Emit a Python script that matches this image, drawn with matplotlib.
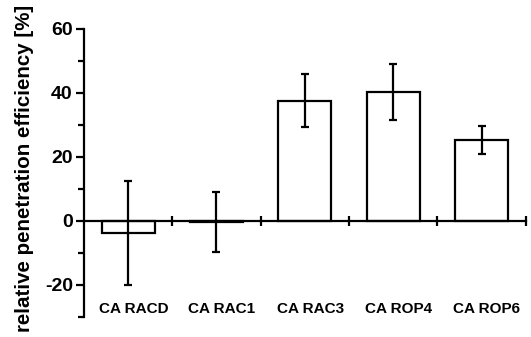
import matplotlib
matplotlib.use("Agg")
import matplotlib.pyplot as plt
import numpy as np

categories = ["CA RACD", "CA RAC1", "CA RAC3", "CA ROP4", "CA ROP6"]
values = [-3.7, -0.3, 37.5, 40.3, 25.3]
errors = [16.3, 9.4, 8.3, 8.7, 4.5]
yticks = [-20, 0, 20, 40, 60]

plt.rcParams['font.family'] = ['Liberation Sans', 'DejaVu Sans']
plt.rcParams['font.weight'] = 'bold'
plt.rcParams['axes.unicode_minus'] = False

fig = plt.figure(figsize=(5.31, 3.37), dpi=100)
ax = fig.add_axes([0.158, 0.06, 0.832, 0.854])

x = np.arange(len(categories))
ax.bar(x, values, width=0.6, facecolor='white', edgecolor='black', linewidth=1.6, zorder=2)
ax.errorbar(x, values, yerr=errors, fmt='none', ecolor='black', elinewidth=1.6,
            capsize=3, capthick=1.6, zorder=3)

ax.set_xlim(-0.5, len(categories) - 0.5)
ax.set_ylim(-30, 60)
ax.spines['top'].set_visible(False)
ax.spines['right'].set_visible(False)
ax.spines['bottom'].set_position(('data', 0))
ax.spines['left'].set_linewidth(1.6)
ax.spines['bottom'].set_linewidth(1.6)

ax.set_xticks(np.arange(len(categories)) + 0.5)
ax.set_xticklabels([])
ax.tick_params(axis='x', direction='inout', length=7, width=1.6)
ax.set_yticks(yticks)
ax.set_yticks(np.arange(-30, 61, 10), minor=True)
ax.tick_params(axis='y', which='major', direction='out', length=6, width=1.6, labelsize=14, pad=2)
ax.tick_params(axis='y', which='minor', direction='out', length=4, width=1.6)
for lab in ax.get_yticklabels():
    lab.set_fontweight('bold')

for xi, c in zip(x, categories):
    ax.text(xi + 0.06, -27.5, c, ha='center', va='center', fontsize=11, fontweight='bold')

ax.set_ylabel("relative penetration efficiency [%]", fontsize=14.8, fontweight='bold')
ax.yaxis.set_label_coords(-0.135, 0.517)
ax.yaxis.label.set_va('center')

fig.savefig("out.png", dpi=100)
